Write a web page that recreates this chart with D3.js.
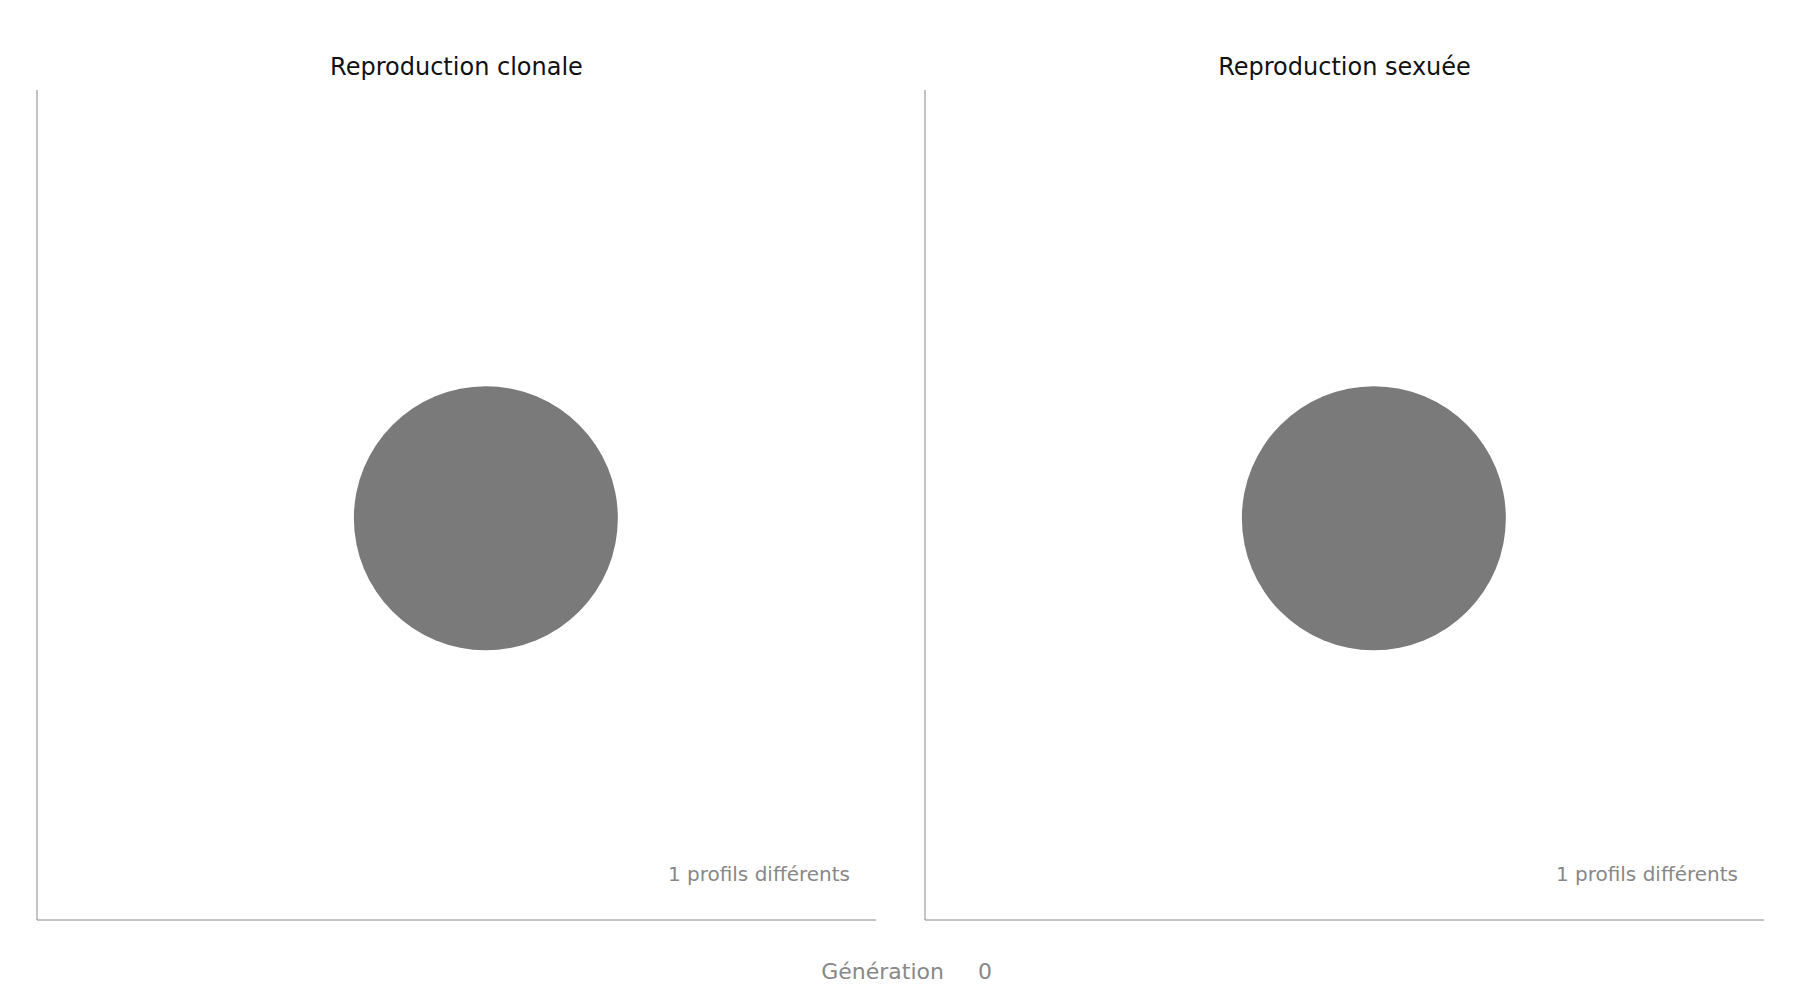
<!DOCTYPE html><html><head><meta charset="utf-8"><script src="https://d3js.org/d3.v7.min.js"></script>
<style>body{margin:0;background:#fff}text{font-family:"DejaVu Sans",sans-serif}</style></head><body><svg id="c" width="1800" height="1000"></svg>
<script>
const panels=["Reproduction clonale","Reproduction sexuée"];
const profileX=[0.535,0.535];
const profileY=[0.484,0.484];
const profileSize=[1,1];
const profileCounts=[1,1];
const generation=0;
const svg=d3.select("#c");
const lefts=[37,925],W=839,plotTop=90,plotBot=920;
panels.forEach((t,i)=>{
  const g=svg.append("g");
  const x=d3.scaleLinear().domain([0,1]).range([lefts[i],lefts[i]+W]);
  const y=d3.scaleLinear().domain([0,1]).range([plotBot,plotTop]);
  const r=d3.scaleSqrt().domain([0,1]).range([0,132]);
  g.append("line").attr("x1",x(0)).attr("x2",x(0)).attr("y1",y(1)).attr("y2",y(0)).attr("stroke","#888");
  g.append("line").attr("x1",x(0)).attr("x2",x(1)).attr("y1",y(0)).attr("y2",y(0)).attr("stroke","#888");
  g.append("text").attr("x",x(0.5)).attr("y",75).attr("text-anchor","middle").attr("font-size",24).attr("fill","#111").text(t);
  g.append("circle").attr("cx",x(profileX[i])).attr("cy",y(profileY[i])).attr("r",r(profileSize[i])).attr("fill","#7a7a7a");
  g.append("text").attr("x",x(1)-26).attr("y",881).attr("text-anchor","end").attr("font-size",20).attr("fill","#888").text(profileCounts[i]+" profils différents");
});
svg.append("text").attr("x",944).attr("y",979).attr("text-anchor","end").attr("font-size",22).attr("fill","#888").text("Génération");
svg.append("text").attr("x",978).attr("y",979).attr("font-size",22).attr("fill","#888").text(generation);
</script></body></html>
